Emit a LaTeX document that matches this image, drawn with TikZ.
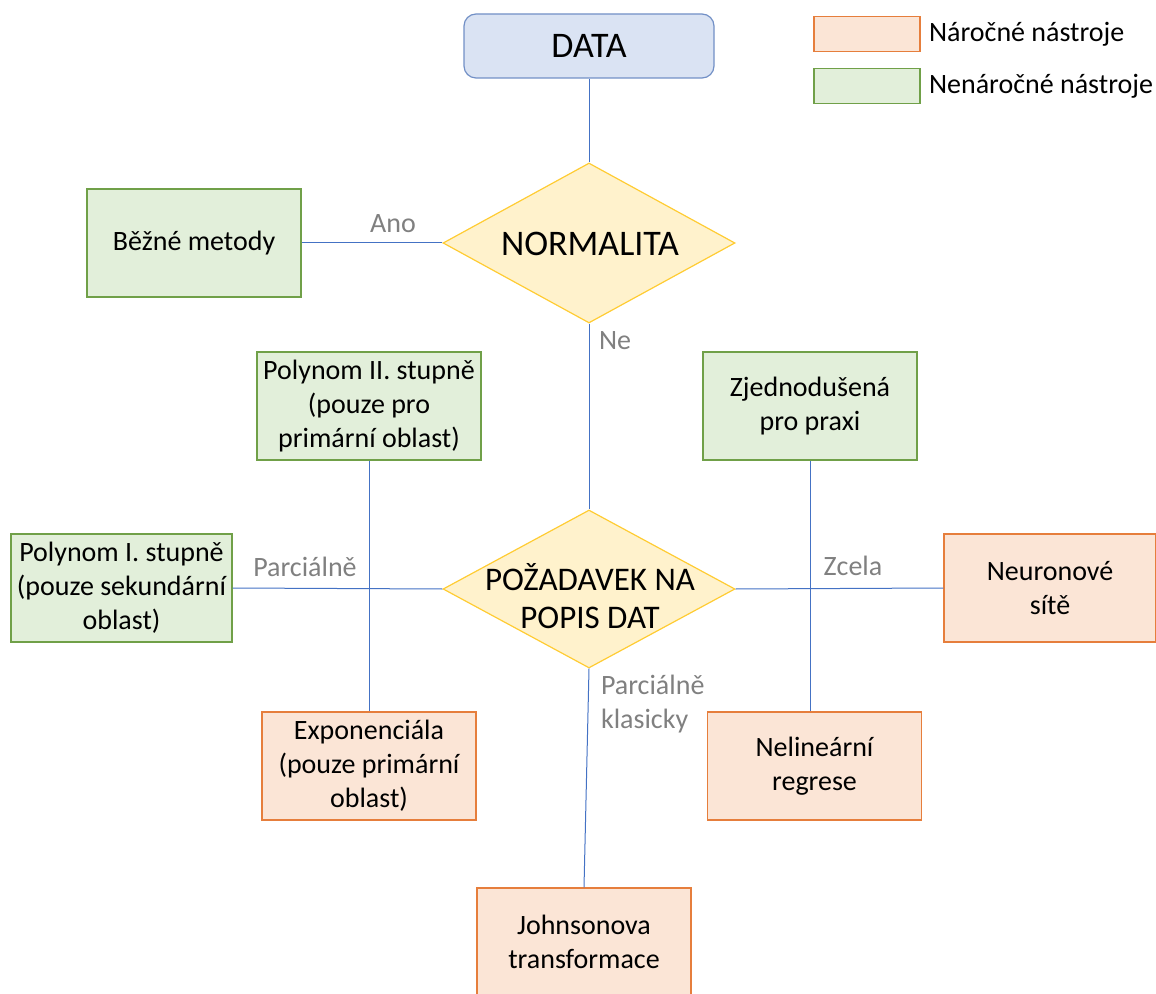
\documentclass[tikz,border=0pt]{standalone}
\usepackage{fontspec}
\setmainfont{Carlito}
\usetikzlibrary{shapes.geometric}
\definecolor{linkblue}{RGB}{68,114,196}
\definecolor{datafill}{RGB}{218,227,243}
\definecolor{dataline}{RGB}{114,144,198}
\definecolor{decfill}{RGB}{255,242,204}
\definecolor{decline}{RGB}{255,204,51}
\definecolor{easyfill}{RGB}{226,239,218}
\definecolor{easyline}{RGB}{112,160,72}
\definecolor{hardfill}{RGB}{251,229,214}
\definecolor{hardline}{RGB}{230,126,60}
\definecolor{labgray}{RGB}{128,128,128}
\tikzset{
  boxtext/.style={font=\fontsize{14}{17}\selectfont, align=center},
  easybox/.style={boxtext, draw=easyline, fill=easyfill, line width=0.6pt,
    minimum width=107pt, minimum height=54pt, inner sep=2pt},
  hardbox/.style={boxtext, draw=hardline, fill=hardfill, line width=0.6pt,
    minimum width=107pt, minimum height=54pt, inner sep=2pt},
  decbox/.style={diamond, draw=decline, fill=decfill, line width=0.6pt,
    minimum width=146pt, minimum height=80pt, inner sep=0pt},
  bigtext/.style={font=\fontsize{16.5}{19}\selectfont, align=center},
  hugetext/.style={font=\fontsize{18}{21}\selectfont, align=center},
  edgelab/.style={boxtext, text=labgray},
  link/.style={draw=linkblue, line width=0.5pt}
}
\begin{document}
\begin{tikzpicture}[x=0.5pt, y=-0.5pt]
    \useasboundingbox (0,0) rectangle (1156,994);

    % legend
    \node [hardbox, minimum width=53pt, minimum height=17.5pt] (leghard) at (867,34) {};
    \node [boxtext, anchor=west] (leghardtext) at (922,34) {Náročné nástroje};
    \node [easybox, minimum width=53pt, minimum height=17.5pt] (legeasy) at (867,86) {};
    \node [boxtext, anchor=west] (legeasytext) at (922,86) {Nenáročné nástroje};

    % main path
    \node [hugetext, draw=dataline, fill=datafill, line width=0.6pt, rounded corners=6pt,
        minimum width=125pt, minimum height=32pt] (data) at (589,46) {DATA};
    \node [decbox] (normal) at (589,243) {};
    \node [hugetext] (normaltext) at (590,244) {NORMALITA};
    \node [decbox, minimum height=79pt] (pozad) at (589,589) {};
    \node [bigtext] (pozadtext) at (590,596) {POŽADAVEK NA\\POPIS DAT};

    % tools
    \node [easybox] (bezne) at (194,243) {Běžné metody};
    \node [easybox, minimum width=112pt] (poly2) at (369,406) {Polynom II. stupně\\(pouze pro\\primární oblast)};
    \node [easybox, minimum width=110.5pt] (poly1) at (121.5,588) {Polynom I. stupně\\(pouze sekundární\\oblast)};
    \node [hardbox] (expon) at (369,766) {Exponenciála\\(pouze primární\\oblast)};
    \node [easybox] (zjedn) at (810,406) {Zjednodušená\\pro praxi};
    \node [hardbox, minimum width=106pt] (neuron) at (1050,588) {Neuronové\\sítě};
    \node [hardbox] (nelin) at (814.5,766) {Nelineární\\regrese};
    \node [hardbox] (johnson) at (584,942) {Johnsonova\\transformace};

    % connectors
    \draw [link] (data.south) -- (normal.north);
    \draw [link] (normal.west) -- (bezne.east);
    \draw [link] (normal.south) -- (pozad.north);
    \draw [link] (pozad.west) -- (poly1.east);
    \draw [link] (pozad.east) -- (neuron.west);
    \draw [link] (pozad.south) -- (johnson.north);
    \draw [link] (poly2.south) -- (expon.north);
    \draw [link] (zjedn.south) -- (zjedn.south |- nelin.north);

    % labels
    \node [edgelab] (ano) at (393,224) {Ano};
    \node [edgelab] (ne) at (615,341) {Ne};
    \node [edgelab] (parc) at (305,567) {Parciálně};
    \node [edgelab] (zcela) at (853,566) {Zcela};
    \node [edgelab, align=left, anchor=west] (parcklas) at (594,704) {Parciálně\\klasicky};
\end{tikzpicture}
\end{document}
